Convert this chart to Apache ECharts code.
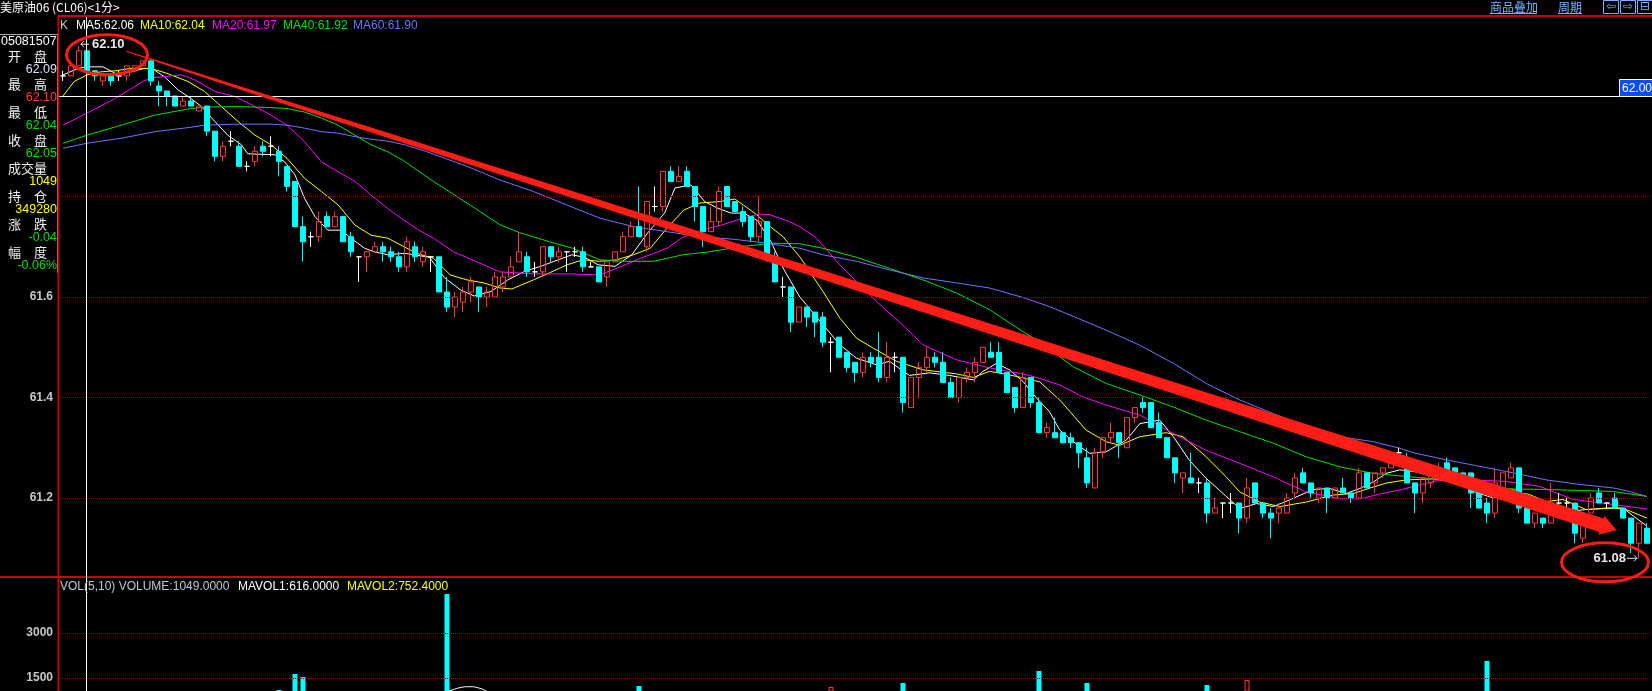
<!DOCTYPE html>
<html><head><meta charset="utf-8">
<style>html,body{margin:0;padding:0;background:#000;overflow:hidden}#c{width:1652px;height:691px}</style>
<script src="https://cdn.jsdelivr.net/npm/echarts@6/dist/echarts.min.js"></script>
</head><body><div id="c"></div>
<script>
// ---------- data ----------
const openP = [
62.04,62.04,62.06,62.09,62.05,62.03,62.04,62.04,62.04,62.05,
62.06,62.07,62.02,62.01,62.00,61.98,61.99,61.97,61.98,61.93,
61.88,61.91,61.90,61.86,61.87,61.90,61.90,61.89,61.86,61.83,
61.74,61.72,61.72,61.76,61.74,61.76,61.72,61.68,61.68,61.69,
61.70,61.69,61.68,61.66,61.70,61.67,61.68,61.68,61.61,61.58,
61.59,61.61,61.62,61.60,61.60,61.62,61.64,61.67,61.68,61.65,
61.65,61.70,61.68,61.69,61.69,61.69,61.66,61.66,61.64,61.67,
61.69,61.72,61.74,61.70,61.78,61.78,61.85,61.83,61.85,61.82,
61.78,61.73,61.75,61.82,61.79,61.77,61.76,61.72,61.75,61.68,
61.62,61.62,61.55,61.58,61.57,61.56,61.51,61.52,61.49,61.47,
61.45,61.48,61.48,61.44,61.48,61.48,61.38,61.44,61.46,61.48,
61.47,61.43,61.40,61.44,61.45,61.47,61.49,61.49,61.45,61.42,
61.38,61.44,61.39,61.33,61.33,61.33,61.32,61.31,61.28,61.22,
61.29,61.32,61.33,61.30,61.36,61.39,61.39,61.35,61.32,61.28,
61.24,61.24,61.23,61.23,61.17,61.19,61.19,61.19,61.16,61.23,
61.19,61.17,61.17,61.17,61.21,61.25,61.23,61.20,61.22,61.20,
61.22,61.21,61.20,61.25,61.23,61.25,61.26,61.29,61.28,61.23,
61.21,61.23,61.24,61.27,61.26,61.25,61.25,61.22,61.19,61.17,
61.22,61.24,61.26,61.18,61.15,61.16,61.15,61.19,61.19,61.19,
61.12,61.17,61.21,61.19,61.20,61.18,61.16,61.11,61.14];
const closeP = [
62.04,62.06,62.09,62.05,62.04,62.04,62.03,62.04,62.06,62.06,
62.07,62.03,62.01,62.00,61.98,61.99,61.98,61.98,61.93,61.88,
61.90,61.91,61.86,61.86,61.89,61.89,61.90,61.87,61.82,61.74,
61.71,61.72,61.75,61.74,61.76,61.71,61.69,61.68,61.69,61.70,
61.69,61.68,61.66,61.71,61.68,61.69,61.68,61.61,61.58,61.60,
61.61,61.63,61.60,61.61,61.64,61.64,61.66,61.69,61.65,61.65,
61.70,61.68,61.69,61.69,61.69,61.66,61.66,61.63,61.67,61.69,
61.72,61.74,61.72,61.79,61.78,61.85,61.83,61.84,61.82,61.78,
61.73,61.75,61.81,61.78,61.77,61.75,61.72,61.75,61.68,61.63,
61.62,61.55,61.58,61.56,61.55,61.51,61.51,61.48,61.46,61.45,
61.48,61.47,61.44,61.48,61.48,61.39,61.44,61.46,61.48,61.47,
61.43,61.40,61.44,61.45,61.47,61.50,61.48,61.45,61.41,61.38,
61.44,61.39,61.33,61.34,61.32,61.31,61.31,61.29,61.23,61.29,
61.32,61.33,61.31,61.36,61.38,61.38,61.34,61.32,61.28,61.25,
61.25,61.23,61.23,61.17,61.18,61.19,61.19,61.16,61.22,61.19,
61.17,61.16,61.18,61.20,61.24,61.23,61.21,61.22,61.20,61.22,
61.21,61.20,61.25,61.22,61.25,61.26,61.27,61.29,61.23,61.21,
61.24,61.25,61.26,61.25,61.24,61.24,61.21,61.18,61.17,61.23,
61.25,61.26,61.18,61.15,61.17,61.15,61.19,61.19,61.19,61.13,
61.17,61.20,61.19,61.19,61.18,61.16,61.11,61.15,61.11];
const lowP = [
62.03,62.04,62.06,62.04,62.03,62.02,62.02,62.03,62.03,62.05,
62.06,62.02,61.98,61.98,61.98,61.98,61.98,61.97,61.92,61.87,
61.87,61.90,61.86,61.85,61.86,61.88,61.88,61.84,61.81,61.74,
61.67,61.70,61.71,61.74,61.74,61.71,61.68,61.63,61.65,61.69,
61.67,61.67,61.65,61.65,61.67,61.66,61.65,61.61,61.57,61.56,
61.57,61.59,61.57,61.58,61.60,61.61,61.64,61.67,61.64,61.64,
61.64,61.67,61.67,61.65,61.68,61.65,61.66,61.63,61.62,61.67,
61.69,61.72,61.72,61.69,61.77,61.77,61.83,61.83,61.82,61.75,
61.70,61.73,61.74,61.78,61.77,61.74,61.71,61.71,61.67,61.63,
61.60,61.53,61.55,61.54,61.52,61.50,61.45,61.48,61.45,61.43,
61.44,61.46,61.43,61.43,61.45,61.37,61.38,61.40,61.45,61.46,
61.43,61.40,61.39,61.43,61.43,61.47,61.48,61.45,61.41,61.37,
61.38,61.38,61.33,61.32,61.32,61.31,61.30,61.26,61.22,61.22,
61.28,61.31,61.28,61.30,61.35,61.37,61.34,61.32,61.28,61.23,
61.21,61.23,61.21,61.15,61.17,61.16,61.17,61.13,61.15,61.19,
61.16,61.12,61.15,61.17,61.20,61.23,61.20,61.19,61.17,61.20,
61.21,61.19,61.20,61.22,61.21,61.24,61.26,61.28,61.23,61.17,
61.19,61.22,61.24,61.24,61.24,61.23,61.18,61.18,61.15,61.16,
61.22,61.24,61.17,61.15,61.14,61.14,61.15,61.18,61.17,61.11,
61.11,61.17,61.19,61.18,61.18,61.16,61.09,61.08,61.11];
const highP = [
62.05,62.07,62.10,62.10,62.05,62.04,62.04,62.05,62.06,62.06,
62.07,62.07,62.03,62.01,62.00,62.00,62.00,61.98,61.98,61.93,
61.91,61.93,61.91,61.87,61.90,61.91,61.92,61.90,61.86,61.83,
61.76,61.73,61.77,61.77,61.77,61.76,61.73,61.68,61.69,61.71,
61.71,61.70,61.69,61.72,61.71,61.70,61.68,61.68,61.64,61.61,
61.62,61.64,61.62,61.62,61.65,61.65,61.68,61.73,61.69,61.67,
61.70,61.70,61.70,61.69,61.70,61.70,61.67,61.66,61.67,61.69,
61.73,61.75,61.82,61.79,61.82,61.85,61.86,61.86,61.86,61.82,
61.78,61.78,61.82,61.82,61.79,61.78,61.76,61.80,61.75,61.69,
61.64,61.62,61.58,61.58,61.57,61.57,61.52,61.52,61.49,61.47,
61.49,61.49,61.53,61.51,61.49,61.48,61.44,61.47,61.50,61.49,
61.49,61.44,61.44,61.46,61.48,61.50,61.51,61.51,61.45,61.42,
61.45,61.44,61.40,61.35,61.36,61.33,61.33,61.31,61.30,61.30,
61.32,61.35,61.33,61.36,61.38,61.40,61.39,61.37,61.32,61.28,
61.25,61.29,61.24,61.24,61.20,61.19,61.21,61.19,61.24,61.23,
61.19,61.18,61.19,61.21,61.25,61.26,61.23,61.22,61.22,61.22,
61.24,61.21,61.26,61.25,61.25,61.26,61.27,61.30,61.29,61.23,
61.24,61.26,61.27,61.28,61.26,61.25,61.25,61.23,61.20,61.26,
61.25,61.27,61.26,61.18,61.17,61.16,61.23,61.21,61.20,61.19,
61.17,61.21,61.22,61.19,61.21,61.18,61.16,61.15,61.15];

// volume bars tall enough to be visible in the lower pane: [candle index, volume]
const volBars = [[27,1100],[29,1633],[30,1533],[48,4300],[72,1233],[96,1200],[105,1333],
  [122,1733],[128,1333],[143,1267],[148,1433],[178,2067]];

// moving averages: [candle index, value]
const ma5 = [[0,62.042],[1.9,62.055],[3,62.058],[5,62.058],[6.9,62.042],[8.5,62.048],[10.2,62.055],[11.4,62.052],[12.7,62.038],[14.4,62.012],[16,61.995],[17.3,61.979],[19,61.949],[20.6,61.922],[22.3,61.903],[23.1,61.885],[26.5,61.883],[27.7,61.869],[29,61.843],[30.2,61.796],[31.5,61.76],[33.1,61.733],[34.8,61.733],[36,61.717],[37.7,61.697],[38.9,61.69],[40.6,61.684],[42.7,61.687],[45.8,61.679],[47.7,61.638],[49.7,61.614],[51.4,61.602],[53.5,61.611],[55.6,61.634],[57.7,61.651],[59.7,61.661],[61.9,61.674],[63.6,61.684],[65.2,61.679],[66.9,61.664],[69,61.661],[71.1,61.684],[73.2,61.73],[75.2,61.767],[76.5,61.817],[78.5,61.823],[80.2,61.79],[81.8,61.777],[83.5,61.767],[85.1,61.767],[86.8,61.752],[88.5,61.71],[90.1,61.655],[92.1,61.60],[92.9,61.585],[95,61.545],[97.1,61.505],[99.2,61.478],[101.7,61.465],[103.3,61.472],[105.8,61.444],[108.3,61.449],[110.8,61.444],[113.8,61.435],[115,61.452],[116.7,61.468],[118.3,61.455],[120,61.432],[121.7,61.399],[123.3,61.372],[124.6,61.335],[126.3,61.312],[128.3,61.289],[130.4,61.292],[132.9,61.315],[134.6,61.348],[137.1,61.355],[138.8,61.322],[140.8,61.275],[142.9,61.239],[145,61.209],[147.1,61.179],[149.2,61.189],[151.3,61.183],[153.3,61.196],[156.3,61.217],[158.3,61.219],[160.4,61.209],[162.1,61.219],[163.8,61.232],[165.4,61.249],[167.1,61.256],[168.8,61.253],[171.3,61.243],[173.8,61.246],[176.3,61.213],[178.8,61.20],[181.3,61.217],[183.3,61.193],[185.4,61.187],[187.9,61.173],[190.4,61.177],[192.9,61.18],[195,61.18],[196.3,61.164],[198,61.144]];
const ma10 = [[0,62.0],[1.4,62.029],[3,62.042],[4.7,62.048],[6.5,62.05],[8.5,62.055],[11,62.055],[13,62.045],[15.6,62.029],[17.7,62.009],[19.8,61.979],[21.9,61.949],[24,61.922],[26,61.903],[28,61.876],[30.2,61.836],[32.3,61.81],[34.4,61.783],[36.5,61.743],[38.5,61.723],[40.6,61.717],[42.4,61.702],[44.2,61.687],[46.3,61.677],[48.4,61.644],[50.5,61.634],[52.6,61.628],[54.6,61.618],[56.1,61.616],[58.8,61.634],[60.8,61.648],[63,61.664],[65,61.674],[67.1,61.671],[69.2,61.674],[71.3,61.684],[73.4,61.697],[75.5,61.737],[77.6,61.773],[79.6,61.787],[82.1,61.79],[84,61.795],[86.7,61.764],[88,61.745],[90,61.72],[92.1,61.68],[95,61.611],[97.1,61.558],[99.2,61.518],[101.3,61.498],[104.2,61.472],[107.5,61.455],[111.7,61.447],[113.8,61.44],[115.8,61.452],[118.3,61.445],[120,61.439],[122.1,61.431],[124.6,61.395],[127.9,61.335],[130.4,61.312],[132.1,61.305],[134.6,61.322],[137.9,61.33],[140,61.322],[142.9,61.282],[145.4,61.242],[147.1,61.212],[149.6,61.192],[152.1,61.183],[155.4,61.192],[158.8,61.206],[161.3,61.209],[163.8,61.222],[165.5,61.23],[167.9,61.236],[171.3,61.238],[175,61.23],[177.1,61.213],[181.3,61.213],[183.3,61.207],[185.4,61.193],[187.5,61.197],[190.4,61.177],[193.8,61.18],[195.4,61.177],[198,61.16]];
const ma20 = [[0,61.942],[3,61.966],[6.5,61.995],[10,62.029],[11,62.036],[14.8,62.042],[16.5,62.032],[19,62.009],[21.5,61.999],[24,61.979],[26,61.962],[28,61.942],[30.2,61.909],[32.3,61.869],[34.4,61.849],[36.5,61.83],[38.5,61.803],[40.6,61.776],[42.4,61.755],[44.3,61.735],[46.3,61.717],[48.8,61.69],[52.6,61.664],[54.6,61.65],[58.8,61.646],[63,61.646],[67.1,61.644],[69.2,61.657],[72.2,61.677],[75.5,61.697],[77.6,61.72],[79.6,61.732],[82.5,61.744],[85,61.757],[87,61.765],[88.3,61.764],[90.8,61.75],[92.1,61.74],[94.2,61.717],[97.1,61.664],[100,61.618],[102.1,61.585],[105.4,61.538],[107.5,61.505],[111.7,61.475],[115.8,61.459],[120,61.447],[122.1,61.438],[124.6,61.425],[127.5,61.401],[130.4,61.385],[134.6,61.365],[138.8,61.328],[142.9,61.295],[147.1,61.269],[151.3,61.242],[155.4,61.212],[159.6,61.199],[162.1,61.198],[164.6,61.208],[167.1,61.216],[168.8,61.223],[172.1,61.236],[176.3,61.236],[180.4,61.233],[184.6,61.223],[188.8,61.197],[193.8,61.187],[198,61.178]];
const ma40 = [[0,61.906],[3,61.922],[7.3,61.942],[11.5,61.962],[15.6,61.974],[17.7,61.978],[21.9,61.979],[26,61.977],[28,61.975],[30.2,61.968],[32.3,61.956],[34.4,61.942],[36.5,61.922],[38.5,61.903],[40.6,61.889],[42.4,61.873],[46.3,61.83],[50.5,61.787],[54.6,61.744],[57.1,61.728],[60.8,61.71],[63.7,61.697],[67.1,61.674],[70.4,61.671],[73.8,61.671],[77.5,61.684],[80.8,61.69],[84.6,61.70],[88.8,61.707],[92.1,61.706],[95,61.697],[99.2,61.679],[103.3,61.657],[107.5,61.634],[111.7,61.608],[115.8,61.575],[120,61.531],[122.1,61.511],[126.3,61.461],[130.4,61.428],[134.6,61.405],[138.8,61.381],[142.9,61.355],[147.1,61.332],[151.3,61.309],[155.4,61.282],[159.6,61.262],[163.8,61.249],[167.1,61.244],[172.9,61.236],[177.1,61.223],[181.3,61.218],[185.4,61.217],[189.6,61.215],[193.8,61.213],[198,61.203]];
const ma60 = [[0,61.896],[3,61.906],[7.3,61.916],[11.5,61.929],[15.6,61.937],[17.7,61.942],[21.9,61.944],[26,61.944],[28,61.942],[30.2,61.936],[32.3,61.929],[34.4,61.926],[36.5,61.919],[38.5,61.914],[40.6,61.91],[42.7,61.903],[45.3,61.89],[50.5,61.86],[54.6,61.833],[58.8,61.81],[63,61.783],[67.1,61.757],[71.3,61.74],[75.5,61.73],[79.6,61.72],[83.8,61.715],[88,61.707],[92.1,61.697],[95,61.684],[99.2,61.671],[103.3,61.654],[107.5,61.638],[111.7,61.628],[115.8,61.618],[120,61.599],[123.3,61.581],[126.5,61.56],[130.4,61.534],[134.6,61.504],[138.8,61.468],[142.9,61.428],[147.1,61.395],[151.3,61.368],[155.4,61.342],[159.6,61.322],[163.8,61.312],[167.1,61.299],[168.8,61.29],[172.9,61.276],[177.1,61.263],[181.3,61.25],[185.4,61.236],[189.6,61.227],[193.8,61.22],[195.8,61.213],[198,61.203]];
const mavol1 = [[47.5,1000],[48.3,1067],[49.6,1177],[50.8,1210],[52.1,1157],[53,1050],[53.6,950]];

const priceTicks = [61.2, 61.4, 61.6, 61.8, 62.0];
const volTicks = [1500, 3000];
const maLegend = [['MA5','62.06'],['MA10','62.04'],['MA20','61.97'],['MA40','61.92'],['MA60','61.90']];
const volLegend = [['VOL(5,10) VOLUME','1049.0000'],['MAVOL1','616.0000'],['MAVOL2','752.4000']];
const infoRows = [['开　盘','62.09'],['最　高','62.10'],['最　低','62.04'],['收　盘','62.05'],['成交量','1049'],['持　仓','349280'],['涨　跌','-0.04'],['幅　度','-0.06%']];
const infoTime = '05081507';
const title = '美原油06 (CL06)<1分>';
const crossIdx = 3, crossPrice = 62.00;

// ---------- styles ----------
const UP = '#ff3a3a', DOWN = '#00ffff', DOJI = '#ffffff';
const MA_COLORS = ['#ffffff', '#ffff00', '#ff00ff', '#00e000', '#7373ff'];
const NUM = '"Liberation Sans", Arial, sans-serif';
const CJK = '"Noto Sans CJK SC", sans-serif';

const N = openP.length;
const cats = openP.map((_, i) => i);
const kData = openP.map((o, i) => [o, closeP[i], lowP[i], highP[i]]);
const volData = cats.map(() => null);
volBars.forEach(([i, v]) => {
  const up = closeP[i] >= openP[i];
  volData[i] = { value: v, itemStyle: up ? { color: 'rgba(0,0,0,0)', borderColor: UP, borderWidth: 1 } : { color: DOWN } };
});

const maLine = (data, color) => ({ type: 'line', xAxisIndex: 2, yAxisIndex: 0, data, symbol: 'none', silent: true, z: 1,
  lineStyle: { color, width: 1 }, animation: false });

const chart = echarts.init(document.getElementById('c'), null, { renderer: 'canvas' });
chart.setOption({
  backgroundColor: '#000',
  animation: false,
  grid: [{ left: 59, top: 17, width: 1592, height: 560 }, { left: 59, top: 577, width: 1592, height: 114 }],
  xAxis: [
    { type: 'category', gridIndex: 0, data: cats, show: false },
    { type: 'category', gridIndex: 1, data: cats, show: false },
    { type: 'value', gridIndex: 0, min: -0.5, max: N - 0.5, show: false },
    { type: 'value', gridIndex: 1, min: -0.5, max: N - 0.5, show: false }
  ],
  yAxis: [
    { type: 'value', gridIndex: 0, min: 61.0428, max: 62.1572, show: false, splitLine: { show: false } },
    // the lower pane only shows the upper part of the volume scale (0 lies below the window)
    { type: 'value', gridIndex: 1, min: 1066.7, max: 4866.7, show: false, splitLine: { show: false } }
  ],
  series: [
    { type: 'candlestick', xAxisIndex: 0, yAxisIndex: 0, data: kData, barWidth: 5, z: 2,
      itemStyle: { color: 'rgba(0,0,0,0)', color0: DOWN, borderColor: UP, borderColor0: DOWN, borderColorDoji: DOJI, borderWidth: 1 },
      markLine: { symbol: ['none', 'none'], silent: true, animation: false, label: { show: false },
        lineStyle: { color: '#8c0000', type: 'dotted', width: 1 }, data: priceTicks.map(v => ({ yAxis: v })) } },
    maLine(ma5, MA_COLORS[0]), maLine(ma10, MA_COLORS[1]), maLine(ma20, MA_COLORS[2]), maLine(ma40, MA_COLORS[3]), maLine(ma60, MA_COLORS[4]),
    { type: 'bar', xAxisIndex: 1, yAxisIndex: 1, data: volData, barWidth: 5, z: 2,
      markLine: { symbol: ['none', 'none'], silent: true, animation: false, label: { show: false },
        lineStyle: { color: '#8c0000', type: 'dotted', width: 1 }, data: volTicks.map(v => ({ yAxis: v })) } },
    { type: 'line', xAxisIndex: 3, yAxisIndex: 1, data: mavol1, symbol: 'none', smooth: true, silent: true, lineStyle: { color: '#ffffff', width: 1 } }
  ]
});

// ---------- overlays positioned through the chart's own scales ----------
const P = (i, p) => chart.convertToPixel({ seriesIndex: 1 }, [i, p]);
const PV = (i, v) => chart.convertToPixel({ seriesIndex: 7 }, [i, v]);
const g = [];
const T = (x, y, s, fill, font, align, z) => g.push({ type: 'text', z: z || 100, silent: true,
  style: { text: s, x, y, fill, font, align: align || 'left', verticalAlign: 'middle', textAlign: align || 'left', textVerticalAlign: 'middle' } });
const L = (x1, y1, x2, y2, stroke, w, z) => g.push({ type: 'line', z: z || 100, silent: true, shape: { x1, y1, x2, y2 }, style: { stroke, lineWidth: w || 1 } });
const R = (x, y, w, h, style, z) => g.push({ type: 'rect', z: z || 100, silent: true, shape: { x, y, width: w, height: h }, style });

// axis labels
priceTicks.forEach(t => T(53, P(0, t)[1], t.toFixed(1), '#c8c8c8', 'bold 12px ' + NUM, 'right', 20));
volTicks.forEach(t => T(53, PV(0, t)[1], String(t), '#c8c8c8', 'bold 12px ' + NUM, 'right', 20));

// frame
L(58, 16, 1652, 16, '#c80000', 2, 60);
L(58.5, 16, 58.5, 691, '#c80000', 2, 60);
L(0, 577, 1652, 577, '#c80000', 2, 60);

// crosshair
const cx = Math.round(P(crossIdx, 0)[0] - 1.5) + 0.5;
const cy = Math.round(P(0, crossPrice)[1]) + 0.5;
L(cx, 17, cx, 691, '#ffffff', 1, 70);
L(59, cy, 1619, cy, '#ffffff', 1, 70);
R(1619.5, cy - 17, 33, 17, { fill: '#0a4cff', stroke: '#ffffff', lineWidth: 1 }, 71);
T(1622, cy - 8, crossPrice.toFixed(2), '#ffffff', '12px ' + NUM, 'left', 72);

// info panel
R(0, 34, 57, 240, { fill: '#000' }, 50);
L(0, 34.5, 57, 34.5, '#a8a8a8', 1, 51);
L(57.5, 34, 57.5, 273, '#a8a8a8', 1, 51);
T(1, 42, infoTime, '#ffffff', '12.5px ' + NUM, 'left', 52);
const valColors = ['#d8e0f8', '#ff4040', '#00e000', '#00e000', '#ffff00', '#ffff00', '#00e000', '#00e000'];
infoRows.forEach(([lab, val], k) => {
  const y0 = 56 + k * 28;
  T(8, y0, lab, '#f0f0f0', '13px ' + CJK, 'left', 52);
  T(57, y0 + 13.5, val, valColors[k], '12.5px ' + NUM, 'right', 52);
});

// legends
T(0, 7, title, '#ffffff', '12px ' + CJK, 'left', 80);
T(60, 26, 'K', '#c8c8c8', '12px ' + NUM, 'left', 80);
const maX = [76, 140, 212, 283, 353];
maLegend.forEach(([n, v], k) => T(maX[k], 26, n + ':' + v, MA_COLORS[k], '12px ' + NUM, 'left', 80));
const vX = [60, 238, 347], vC = ['#c0c8d8', '#ffffff', '#ffff00'];
volLegend.forEach(([n, v], k) => T(vX[k], 587, n + ':' + v, vC[k], '12px ' + NUM, 'left', 80));

// toolbar
const TB = '#7fb0ff';
T(1490, 7, '商品叠加', TB, '12px ' + CJK, 'left', 80); L(1490, 13.5, 1537, 13.5, TB, 1, 80);
T(1558, 7, '周期', TB, '12px ' + CJK, 'left', 80); L(1558, 13.5, 1582, 13.5, TB, 1, 80);
[[1603.5, '⇦'], [1620.5, '⇨'], [1637.5, '⊟']].forEach(([x, s]) => {
  R(x, 0.5, 15, 13, { fill: 'none', stroke: TB, lineWidth: 1 }, 80);
  T(x + 7.5, 7, s, TB, '12px "DejaVu Sans"', 'center', 81);
});

// highest / lowest marks
let iHi = 0, iLo = 0;
highP.forEach((h, i) => { if (h > highP[iHi]) iHi = i; });
lowP.forEach((l, i) => { if (l < lowP[iLo]) iLo = i; });
const hp = P(iHi, highP[iHi]), lp = P(iLo, lowP[iLo]);
const MK = '#e8e8e8';
L(hp[0] + 2, hp[1] - 1.5, hp[0] + 10, hp[1] - 1.5, MK, 1, 90);
g.push({ type: 'polyline', z: 90, shape: { points: [[hp[0] + 5, hp[1] - 4.5], [hp[0] + 2, hp[1] - 1.5], [hp[0] + 5, hp[1] + 1.5]] }, style: { stroke: MK, lineWidth: 1 } });
T(hp[0] + 13, hp[1] - 1.5, highP[iHi].toFixed(2), MK, 'bold 13px ' + NUM, 'left', 90);
L(lp[0] - 12, lp[1], lp[0] - 2, lp[1], MK, 1, 90);
g.push({ type: 'polyline', z: 90, shape: { points: [[lp[0] - 5, lp[1] - 3], [lp[0] - 2, lp[1]], [lp[0] - 5, lp[1] + 3]] }, style: { stroke: MK, lineWidth: 1 } });
T(lp[0] - 13, lp[1], lowP[iLo].toFixed(2), MK, 'bold 13px ' + NUM, 'right', 90);

// hand-drawn annotations: ellipses + tapered arrow
const RED = '#ff1e16';
g.push({ type: 'ellipse', z: 95, shape: { cx: hp[0] + 28, cy: hp[1] + 9, rx: 40.5, ry: 20 }, style: { fill: 'none', stroke: RED, lineWidth: 3 } });
g.push({ type: 'ellipse', z: 95, shape: { cx: lp[0] - 34, cy: lp[1] + 4, rx: 43.5, ry: 19.5 }, style: { fill: 'none', stroke: RED, lineWidth: 3 } });
const arrowFrom = [7.9, 62.089], arrowTip = [194.2, 61.136];
const A = P(arrowFrom[0], arrowFrom[1]), B = P(arrowTip[0], arrowTip[1]);
const dx = B[0] - A[0], dy = B[1] - A[1], len = Math.hypot(dx, dy);
const ux = dx / len, uy = dy / len, nx = -uy, ny = ux;
const headLen = 16, bodyLen = len - headLen;
const left = [], right = [];
for (let k = 0; k <= 30; k++) {
  const t = k / 30, hw = 0.5 + 6.5 * Math.pow(t, 0.7);
  const px = A[0] + ux * bodyLen * t, py = A[1] + uy * bodyLen * t;
  left.push([px - nx * hw, py - ny * hw]); right.push([px + nx * hw, py + ny * hw]);
}
const Bx = A[0] + ux * bodyLen, By = A[1] + uy * bodyLen;
const pts = left.concat([[Bx - nx * 10, By - ny * 10], [B[0], B[1]], [Bx + nx * 10, By + ny * 10]], right.reverse());
g.push({ type: 'polygon', z: 96, shape: { points: pts }, style: { fill: RED } });

chart.setOption({ graphic: g });
</script></body></html>
